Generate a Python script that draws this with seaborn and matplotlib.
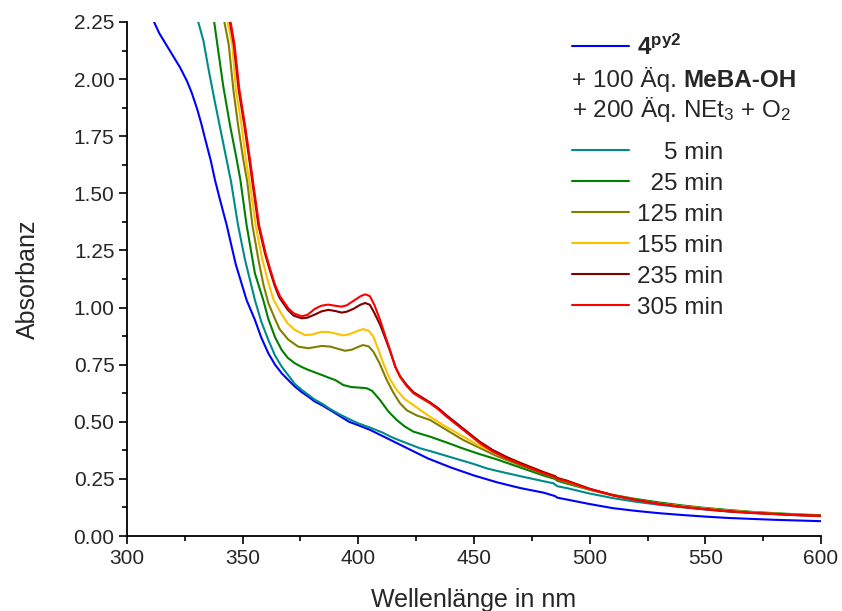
import numpy as np
import matplotlib
matplotlib.use("Agg")
import matplotlib.pyplot as plt
import seaborn as sns
from matplotlib.ticker import MultipleLocator

# --- data (wavelength in nm, absorbance) ---
wl_blue = [311.7, 314, 317, 320, 323, 326, 328, 330.3, 332, 334, 336.3, 338, 340, 343.1, 347, 351.7,
           355.3, 358, 361.1, 364, 366.9, 370, 372.6, 375.5, 378.4, 381, 384.2, 388, 392, 396, 400,
           405, 410, 415, 420, 425, 430, 440, 450, 460, 470, 480, 485, 486, 490, 500, 510, 520, 530,
           540, 550, 560, 570, 580, 590, 600]
abs_blue = [2.25, 2.20, 2.15, 2.10, 2.05, 1.99, 1.94, 1.87, 1.81, 1.73, 1.64, 1.56, 1.48, 1.361, 1.19,
            1.033, 0.946, 0.87, 0.80, 0.75, 0.712, 0.68, 0.654, 0.63, 0.61, 0.59, 0.573, 0.55, 0.525,
            0.50, 0.485, 0.465, 0.44, 0.415, 0.39, 0.365, 0.34, 0.30, 0.265, 0.235, 0.21, 0.19, 0.175,
            0.168, 0.16, 0.14, 0.122, 0.11, 0.10, 0.092, 0.085, 0.079, 0.075, 0.071, 0.068, 0.065]

wl_5 = [330.8, 333, 335.5, 338, 340, 342.6, 345, 348, 351, 355.3, 358, 361.1, 364, 366.9, 370,
        372.6, 375.5, 378.4, 381, 384.2, 388, 392, 396, 400, 405, 410, 415, 420, 426.7, 431, 440,
        450, 455.5, 460, 470, 480, 484.3, 486, 490, 500, 510, 520, 530, 540, 550, 560, 570, 580,
        590, 600]
abs_5 = [2.25, 2.17, 2.03, 1.90, 1.80, 1.67, 1.55, 1.361, 1.21, 1.033, 0.94, 0.858, 0.79, 0.741, 0.70,
         0.665, 0.64, 0.618, 0.598, 0.58, 0.555, 0.532, 0.512, 0.493, 0.475, 0.455, 0.43, 0.41, 0.384,
         0.372, 0.345, 0.315, 0.296, 0.285, 0.262, 0.24, 0.231, 0.218, 0.21, 0.186, 0.166, 0.15, 0.137,
         0.126, 0.116, 0.107, 0.101, 0.096, 0.091, 0.087]

wl_25 = [337.7, 339.5, 341.6, 344.5, 347.2, 349, 351.7, 355.3, 358.9, 361.1, 364, 366.9, 369.5,
         372.6, 375.5, 378.4, 384.2, 388, 390, 393.5, 397, 400, 403.6, 406, 409.4, 413, 416.6, 420,
         423.8, 431, 438, 445, 452, 460, 470, 480, 485, 486, 490, 500, 510, 520, 530, 540, 550,
         560, 570, 580, 590, 600]
abs_25 = [2.25, 2.12, 1.97, 1.80, 1.66, 1.56, 1.361, 1.15, 1.033, 0.95, 0.87, 0.814, 0.78,
          0.756, 0.74, 0.727, 0.705, 0.69, 0.683, 0.661, 0.652, 0.65, 0.647, 0.635, 0.595, 0.545,
          0.508, 0.48, 0.457, 0.435, 0.41, 0.384, 0.36, 0.335, 0.30, 0.265, 0.25, 0.242, 0.23,
          0.203, 0.18, 0.162, 0.147, 0.134, 0.123, 0.114, 0.106, 0.10, 0.095, 0.091]

wl_125 = [342.1, 344, 346, 348, 350.3, 352, 354.2, 357, 359, 361.1, 364, 366, 369.7, 374, 378.4,
          384.2, 388, 391, 394.2, 397, 400, 402, 404.5, 406.5, 409, 412.3, 415, 418, 421, 425.2,
          431, 438, 445.4, 452, 459.8, 470, 480, 485, 486, 490, 500, 510, 520, 530, 540, 550, 560,
          570, 580, 590, 600]
abs_125 = [2.25, 2.15, 1.952, 1.80, 1.646, 1.55, 1.361, 1.20, 1.10, 1.02, 0.95, 0.905, 0.86, 0.829,
           0.822, 0.832, 0.829, 0.82, 0.811, 0.815, 0.828, 0.836, 0.83, 0.807, 0.76, 0.683, 0.63,
           0.581, 0.55, 0.528, 0.508, 0.465, 0.42, 0.388, 0.35, 0.31, 0.272, 0.255, 0.247, 0.235,
           0.203, 0.178, 0.158, 0.142, 0.13, 0.12, 0.111, 0.104, 0.098, 0.093, 0.089]

wl_155 = [343.5, 345.5, 347.1, 349.5, 351.4, 353, 355.6, 358.5, 361.1, 363.3, 366.9, 369.5, 372.6,
          376.9, 380, 384.2, 387, 390, 393.5, 396, 399, 402.1, 404.5, 406.5, 408.5, 410.8, 413.5,
          416.6, 420, 423.8, 431, 438, 445.4, 452, 459.8, 470, 480, 485, 486, 490, 500, 510, 520,
          530, 540, 550, 560, 570, 580, 590, 600]
abs_155 = [2.25, 2.15, 1.952, 1.80, 1.646, 1.55, 1.361, 1.21, 1.11, 1.035, 0.97, 0.93, 0.902,
           0.88, 0.882, 0.894, 0.893, 0.887, 0.878, 0.883, 0.895, 0.906, 0.898, 0.873, 0.82, 0.756,
           0.69, 0.639, 0.60, 0.573, 0.522, 0.478, 0.435, 0.397, 0.362, 0.32, 0.28, 0.262, 0.252,
           0.24, 0.205, 0.18, 0.158, 0.142, 0.13, 0.12, 0.111, 0.104, 0.098, 0.093, 0.089]

wl_235 = [344.5, 346.2, 348.3, 350.7, 352.9, 354.2, 356.8, 359.7, 361.7, 363.7, 365.8, 369.5, 372,
          375.5, 378, 381.3, 384, 387, 390, 392.8, 395, 398, 401, 403, 405, 407, 409.4, 411.5,
          413.7, 416, 418, 421, 423.8, 427, 431, 434.5, 438.2, 445.4, 452.6, 458, 464.1, 470, 480,
          485, 486, 490, 500, 510, 520, 530, 540, 550, 560, 570, 580, 590, 600]
abs_235 = [2.25, 2.15, 1.952, 1.80, 1.646, 1.55, 1.361, 1.235, 1.165, 1.10, 1.045, 0.99, 0.965,
           0.953, 0.956, 0.97, 0.983, 0.99, 0.985, 0.978, 0.982, 0.995, 1.013, 1.02, 1.012, 0.975,
           0.925, 0.87, 0.81, 0.74, 0.70, 0.66, 0.63, 0.61, 0.585, 0.56, 0.528, 0.47, 0.412, 0.377,
           0.346, 0.32, 0.28, 0.262, 0.254, 0.243, 0.207, 0.179, 0.158, 0.141, 0.128, 0.118, 0.109,
           0.102, 0.097, 0.092, 0.089]

wl_305 = [344.8, 346.5, 348.6, 351, 353.2, 354.5, 357.1, 360, 362, 364, 366.1, 369.7, 372, 375.5,
          378, 381.3, 384, 387, 390, 392.8, 395, 398, 401, 403, 405, 407, 409.4, 411.5, 413.7, 416,
          418, 421, 423.8, 427, 431, 434.5, 438.2, 445.4, 452.6, 458, 464.1, 470, 480, 485, 486,
          490, 500, 510, 520, 530, 540, 550, 560, 570, 580, 590, 600]
abs_305 = [2.25, 2.15, 1.952, 1.80, 1.646, 1.55, 1.361, 1.235, 1.165, 1.10, 1.05, 0.997, 0.975,
           0.962, 0.968, 0.995, 1.008, 1.013, 1.008, 1.004, 1.01, 1.03, 1.05, 1.058, 1.05, 1.01,
           0.946, 0.88, 0.814, 0.74, 0.697, 0.655, 0.625, 0.605, 0.581, 0.555, 0.522, 0.464, 0.406,
           0.37, 0.34, 0.315, 0.275, 0.258, 0.25, 0.24, 0.205, 0.178, 0.157, 0.14, 0.127, 0.117,
           0.108, 0.101, 0.096, 0.091, 0.088]

time_labels = ["    5 min", "  25 min", "125 min", "155 min", "235 min", "305 min"]
series = [(wl_5, abs_5), (wl_25, abs_25), (wl_125, abs_125),
          (wl_155, abs_155), (wl_235, abs_235), (wl_305, abs_305)]
colors = ["#008b8b", "#008000", "#808000", "#ffc000", "#800000", "#ff0000"]

sns.set_theme(style="ticks")
plt.rcParams["font.family"] = ["Liberation Sans", "DejaVu Sans"]
plt.rcParams["mathtext.fontset"] = "custom"
plt.rcParams["mathtext.rm"] = "Liberation Sans"
plt.rcParams["mathtext.it"] = "Liberation Sans:italic"
plt.rcParams["mathtext.bf"] = "Liberation Sans:bold"

fig = plt.figure(figsize=(8.42, 6.11), dpi=100)
ax = fig.add_axes([0.1508, 0.1227, 0.9751 - 0.1508, 0.964 - 0.1227])

sns.lineplot(x=wl_blue, y=abs_blue, color="#0000ff", lw=1.5, sort=False, ax=ax)
for (wl, ab), c in zip(series, colors):
    sns.lineplot(x=wl, y=ab, color=c, lw=1.5, sort=False, ax=ax)

ax.set_xlim(300, 600)
ax.set_ylim(0, 2.25)
ax.xaxis.set_major_locator(MultipleLocator(50))
ax.xaxis.set_minor_locator(MultipleLocator(25))
ax.yaxis.set_major_locator(MultipleLocator(0.25))
ax.yaxis.set_minor_locator(MultipleLocator(0.125))
ax.yaxis.set_major_formatter(plt.FormatStrFormatter("%.2f"))
sns.despine(ax=ax)
for s in ["left", "bottom"]:
    ax.spines[s].set_linewidth(1.3)
    ax.spines[s].set_color("black")
ax.tick_params(which="major", direction="out", length=6, width=1.2, labelsize=15, pad=3, color="black")
ax.tick_params(which="minor", direction="out", length=3.5, width=1.2, color="black")
ax.set_xlabel("Wellenlänge in nm", fontsize=18, labelpad=15)
ax.set_ylabel("Absorbanz", fontsize=18, labelpad=24)

lines = ax.get_lines()
leg_fs = 17.5
leg1 = ax.legend([lines[0]], [r"$\mathbf{4^{py2}}$"], loc="center left",
                 bbox_to_anchor=(0.641, 0.951), frameon=False, fontsize=leg_fs,
                 handlelength=2.37, handletextpad=0.3, borderpad=0, borderaxespad=0)
ax.add_artist(leg1)
t1 = ax.text(0.641, 0.8735, "+ 100 Äq. ", transform=ax.transAxes, fontsize=leg_fs, va="baseline")
ax.annotate("MeBA-OH", xy=(1, 0), xycoords=t1, va="bottom", fontsize=leg_fs, fontweight="bold")
ax.text(0.641, 0.815, "+ 200 Äq. NEt$_3$ + O$_2$", transform=ax.transAxes, fontsize=leg_fs,
        va="baseline")
ax.legend(lines[1:], time_labels, loc="center left", bbox_to_anchor=(0.641, 0.595),
          frameon=False, fontsize=leg_fs, handlelength=2.37, handletextpad=0.3,
          labelspacing=0.37, borderpad=0, borderaxespad=0)

fig.savefig("out.png", dpi=100)
